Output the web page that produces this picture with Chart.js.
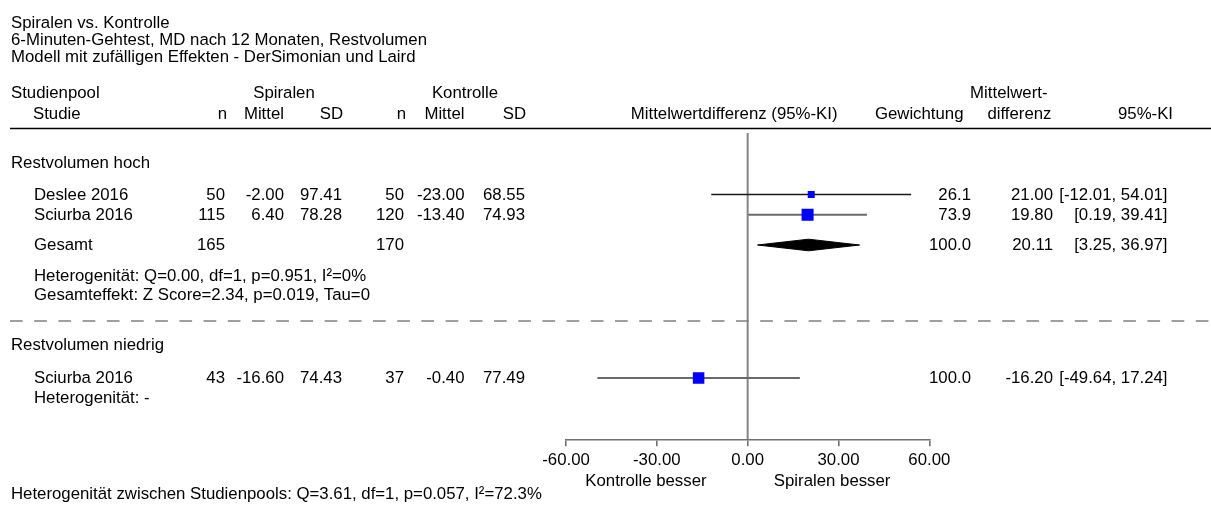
<!DOCTYPE html>
<html>
<head>
<meta charset="utf-8">
<script src="https://cdn.jsdelivr.net/npm/chart.js@4.4.1/dist/chart.umd.min.js"></script>
<style>
  html, body { margin: 0; padding: 0; background: #ffffff; }
  #wrap { width: 1211px; height: 506px; position: relative; }
</style>
</head>
<body>
<div id="wrap"><canvas id="c" width="1211" height="506"></canvas></div>
<script>
// ---------------- DATA ----------------
const titleLines = [
  'Spiralen vs. Kontrolle',
  '6-Minuten-Gehtest, MD nach 12 Monaten, Restvolumen',
  'Modell mit zufälligen Effekten - DerSimonian und Laird'
];
const groupNames = ['Restvolumen hoch', 'Restvolumen niedrig'];
const studyNames = ['Deslee 2016', 'Sciurba 2016', 'Sciurba 2016'];
const studyGroup = [0, 0, 1];
const nSpiralen = [50, 115, 43];
const meanSpiralen = [-2.00, 6.40, -16.60];
const sdSpiralen = [97.41, 78.28, 74.43];
const nKontrolle = [50, 120, 37];
const meanKontrolle = [-23.00, -13.40, -0.40];
const sdKontrolle = [68.55, 74.93, 77.49];
const meanDiff = [21.00, 19.80, -16.20];
const ciLower = [-12.01, 0.19, -49.64];
const ciUpper = [54.01, 39.41, 17.24];
const weights = [26.1, 73.9, 100.0];

const pooledGroup = [0];
const pooledNSpiralen = [165];
const pooledNKontrolle = [170];
const pooledMeanDiff = [20.11];
const pooledLower = [3.25];
const pooledUpper = [36.97];
const pooledWeight = [100.0];

const heterogeneityText = ['Heterogenität: Q=0.00, df=1, p=0.951, I²=0%', 'Heterogenität: -'];
const overallEffectText = ['Gesamteffekt: Z Score=2.34, p=0.019, Tau=0', null];
const betweenGroupsText = 'Heterogenität zwischen Studienpools: Q=3.61, df=1, p=0.057, I²=72.3%';
const xTicks = [-60, -30, 0, 30, 60];
const favourLeft = 'Kontrolle besser';
const favourRight = 'Spiralen besser';

// ---------------- LAYOUT / STYLE ----------------
const FONT_FAMILY = '"Liberation Sans", Arial, sans-serif';
const FONT_SIZE = 16.8;
const FONT = FONT_SIZE + 'px ' + FONT_FAMILY;
const Y_TOP = 133, Y_AXIS = 439.3;             // vertical extent of plot region (px rows)
const titleRowY = [23.5, 40.5, 57];
const headRowY = [93.5, 114.5];
const groupRowY = [163, 345];
const studyRowY = [194.5, 214.7, 378];
const pooledRowY = [245];
const hetRowY = [276.5, 398.5];
const overallRowY = [295.5, null];
const separatorY = 321;
const markerSide = [7, 12, 11.5];             // square side in px (style)
const ciStyle = [{c:'#1a1a1a', w:1.4}, {c:'#6a6a6a', w:1.9}, {c:'#6a6a6a', w:2}];
const DIAMOND_HALF = 5.8;

// columns (right-aligned x positions)
const col = { n1: 225, m1: 284, sd1: 342, n2: 404, m2: 464.5, sd2: 525, w: 971, md: 1053, ci: 1167.5 };
const INDENT = 34, LEFT = 11;

// ---------------- DATASETS ----------------
const datasets = [];
datasets.push({ data: [{x:0, y:Y_TOP}, {x:0, y:Y_AXIS}], showLine: true, borderColor: '#858585', borderWidth: 2, pointRadius: 0, order: 10 });
studyNames.forEach((s, i) => {
  datasets.push({ data: [{x: ciLower[i], y: studyRowY[i]}, {x: ciUpper[i], y: studyRowY[i]}], showLine: true,
    borderColor: ciStyle[i].c, borderWidth: ciStyle[i].w, pointRadius: 0, order: 5 });
});
datasets.push({
  data: meanDiff.map((v, i) => ({x: v, y: studyRowY[i]})),
  pointStyle: 'rect', pointRadius: markerSide.map(s => s / Math.SQRT2), pointBorderWidth: 0,
  backgroundColor: '#0000ff', borderColor: '#0000ff', showLine: false, order: 1
});
pooledMeanDiff.forEach((v, i) => {
  const y = pooledRowY[i];
  datasets.push({
    data: [{x: pooledLower[i], y}, {x: v, y: y - DIAMOND_HALF}, {x: pooledUpper[i], y}, {x: v, y: y + DIAMOND_HALF}, {x: pooledLower[i], y}],
    showLine: true, fill: 'shape', backgroundColor: '#000', borderColor: '#000', borderWidth: 1, pointRadius: 0, tension: 0, order: 2
  });
});

// ---------------- TEXT PLUGIN ----------------
const fmt2 = v => v.toFixed(2);
const textPlugin = {
  id: 'forestText',
  afterDraw(chart) {
    const ctx = chart.ctx;
    const ys = chart.scales.y, xs = chart.scales.x;
    const Y = v => ys.getPixelForValue(v);
    ctx.save();
    ctx.font = FONT;
    ctx.fillStyle = '#000';
    ctx.textBaseline = 'middle';
    const t = (s, x, y, a) => { ctx.textAlign = a || 'left'; ctx.fillText(s, x, y); };

    titleLines.forEach((s, i) => t(s, LEFT, titleRowY[i]));
    const h1 = headRowY[0], h2 = headRowY[1];
    t('Studienpool', LEFT, h1); t('Spiralen', 284, h1, 'center'); t('Kontrolle', 465, h1, 'center');
    t('Mittelwert-', 1047.5, h1, 'right');
    t('Studie', INDENT - 1, h2);
    t('n', col.n1 + 2, h2, 'right'); t('Mittel', col.m1, h2, 'right'); t('SD', col.sd1 + 1, h2, 'right');
    t('n', col.n2 + 2, h2, 'right'); t('Mittel', col.m2, h2, 'right'); t('SD', col.sd2 + 1, h2, 'right');
    t('Mittelwertdifferenz (95%-KI)', 837.5, h2, 'right');
    t('Gewichtung', 963.5, h2, 'right');
    t('differenz', 1051.5, h2, 'right');
    t('95%-KI', 1173, h2, 'right');

    ctx.strokeStyle = '#000'; ctx.lineWidth = 1.7;
    ctx.beginPath(); ctx.moveTo(10, 128.5); ctx.lineTo(1211, 128.5); ctx.stroke();

    groupNames.forEach((g, gi) => {
      t(g, LEFT, Y(groupRowY[gi]));
      t(heterogeneityText[gi], INDENT, Y(hetRowY[gi]));
      if (overallEffectText[gi]) t(overallEffectText[gi], INDENT, Y(overallRowY[gi]));
    });
    studyNames.forEach((s, i) => {
      const y = Y(studyRowY[i]) + 0.8;
      t(s, INDENT, y);
      t(String(nSpiralen[i]), col.n1, y, 'right');
      t(fmt2(meanSpiralen[i]), col.m1, y, 'right');
      t(fmt2(sdSpiralen[i]), col.sd1, y, 'right');
      t(String(nKontrolle[i]), col.n2, y, 'right');
      t(fmt2(meanKontrolle[i]), col.m2, y, 'right');
      t(fmt2(sdKontrolle[i]), col.sd2, y, 'right');
      t(weights[i].toFixed(1), col.w, y, 'right');
      t(fmt2(meanDiff[i]), col.md, y, 'right');
      t('[' + fmt2(ciLower[i]) + ', ' + fmt2(ciUpper[i]) + ']', col.ci, y, 'right');
    });
    pooledGroup.forEach((g, i) => {
      const y = Y(pooledRowY[i]);
      t('Gesamt', INDENT, y);
      t(String(pooledNSpiralen[i]), col.n1, y, 'right');
      t(String(pooledNKontrolle[i]), col.n2, y, 'right');
      t(pooledWeight[i].toFixed(1), col.w, y, 'right');
      t(fmt2(pooledMeanDiff[i]), col.md, y, 'right');
      t('[' + fmt2(pooledLower[i]) + ', ' + fmt2(pooledUpper[i]) + ']', col.ci, y, 'right');
    });

    ctx.strokeStyle = '#808080'; ctx.lineWidth = 1.7; ctx.setLineDash([12.7, 11.5]);
    ctx.beginPath(); ctx.moveTo(10, Y(separatorY)); ctx.lineTo(1211, Y(separatorY)); ctx.stroke();
    ctx.setLineDash([]);

    t(favourLeft, xs.getPixelForValue(-33.6), 481, 'center');
    t(favourRight, xs.getPixelForValue(27.9), 481, 'center');
    t(betweenGroupsText, LEFT, 494);
    ctx.restore();
  }
};

new Chart(document.getElementById('c'), {
  type: 'scatter',
  data: { datasets },
  options: {
    responsive: false,
    animation: false,
    devicePixelRatio: 1,
    layout: { padding: { left: 566, right: 281.7, top: Y_TOP, bottom: 0 } },
    plugins: { legend: { display: false }, tooltip: { enabled: false }, title: { display: false } },
    scales: {
      x: {
        type: 'linear', min: -60, max: 60, position: 'bottom',
        afterBuildTicks: s => { s.ticks = xTicks.map(v => ({ value: v })); },
        afterFit: s => { s.height = 506 - Y_AXIS; },
        ticks: { callback: v => Number(v).toFixed(2), color: '#000', font: { family: FONT_FAMILY, size: FONT_SIZE }, padding: 4, maxRotation: 0, autoSkip: false },
        grid: { drawOnChartArea: false, drawTicks: true, tickLength: 7, color: '#707070', lineWidth: 1.6 },
        border: { display: true, color: '#707070', width: 1.6 }
      },
      y: { type: 'linear', min: Y_TOP, max: Y_AXIS, reverse: true, display: false }
    }
  },
  plugins: [textPlugin]
});
</script>
</body>
</html>
